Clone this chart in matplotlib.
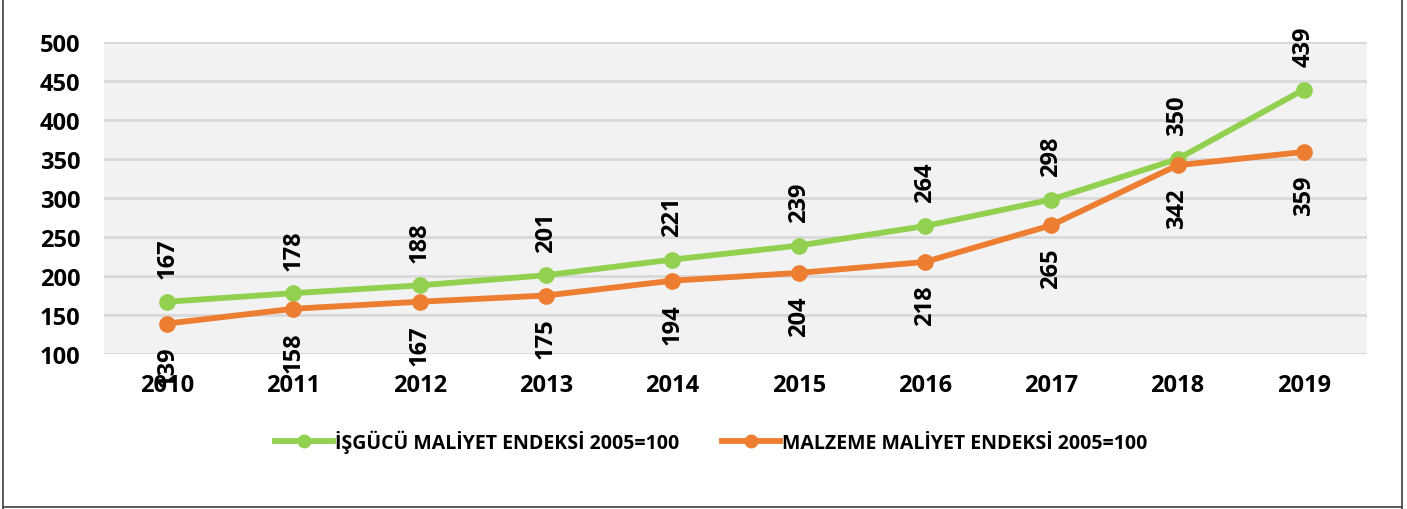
import matplotlib
matplotlib.use("Agg")
import matplotlib.pyplot as plt
from matplotlib.lines import Line2D

years = ["2010", "2011", "2012", "2013", "2014", "2015", "2016", "2017", "2018", "2019"]
isgucu = [167, 178, 188, 201, 221, 239, 264, 298, 350, 439]
malzeme = [139, 158, 167, 175, 194, 204, 218, 265, 342, 359]
yticks = [100, 150, 200, 250, 300, 350, 400, 450, 500]
label_isgucu = "İŞGÜCÜ MALİYET ENDEKSİ 2005=100"
label_malzeme = "MALZEME MALİYET ENDEKSİ 2005=100"

GREEN = "#92d050"
ORANGE = "#ed7d31"

plt.rcParams['font.family'] = ['Open Sans', 'DejaVu Sans']
plt.rcParams['font.weight'] = 'bold'

fig = plt.figure(figsize=(14.07, 5.10), dpi=100)
ax = fig.add_axes([104/1407, 1-355/510, (1367-104)/1407, (355-43)/510])
ax.set_facecolor("#f2f2f2")

x = list(range(len(years)))
ax.plot(x, isgucu, color=GREEN, lw=4.2, marker='o', ms=11, zorder=3, label=label_isgucu)
ax.plot(x, malzeme, color=ORANGE, lw=4.2, marker='o', ms=11, zorder=3, label=label_malzeme)

for xi, v in zip(x, isgucu):
    ax.annotate(str(v), (xi, v), xytext=(0, 17), textcoords='offset points',
                rotation=90, ha='center', va='bottom', fontsize=17, fontweight='bold',
                color='black', zorder=4, annotation_clip=False)
for xi, v in zip(x, malzeme):
    ax.annotate(str(v), (xi, v), xytext=(0, -16), textcoords='offset points',
                rotation=90, ha='center', va='top', fontsize=17, fontweight='bold',
                color='black', zorder=4, annotation_clip=False)

ax.set_xlim(-0.5, len(years) - 0.5)
ax.set_ylim(100, 500)
ax.set_yticks(yticks)
ax.set_xticks(x)
ax.set_xticklabels(years)
ax.tick_params(axis='both', length=0, labelsize=17)
ax.tick_params(axis='y', pad=17)
ax.tick_params(axis='x', pad=14)
for lab in ax.get_xticklabels() + ax.get_yticklabels():
    lab.set_fontweight('bold')
ax.yaxis.grid(True, color="#d9d9d9", lw=2)
ax.set_axisbelow(True)
for s in ax.spines.values():
    s.set_visible(False)

handles = [Line2D([0], [0], color=GREEN, lw=4.2, marker='o', ms=9),
           Line2D([0], [0], color=ORANGE, lw=4.2, marker='o', ms=9)]
fig.legend(handles, [label_isgucu, label_malzeme], loc='center',
           bbox_to_anchor=(711/1407, 1-442/510), ncol=2, frameon=False,
           prop={'weight': 'bold', 'size': 14}, handlelength=3.0, handletextpad=0.1,
           columnspacing=2.2)

# outer border
fig.add_artist(Line2D([3/1407, 3/1407], [0, 1], color='#404040', lw=1.2, transform=fig.transFigure))
fig.add_artist(Line2D([1402/1407, 1402/1407], [0, 1], color='#404040', lw=1.2, transform=fig.transFigure))
fig.add_artist(Line2D([3/1407, 1402/1407], [2/510, 2/510], color='#404040', lw=1.2, transform=fig.transFigure))

fig.savefig("out.png", dpi=100)
